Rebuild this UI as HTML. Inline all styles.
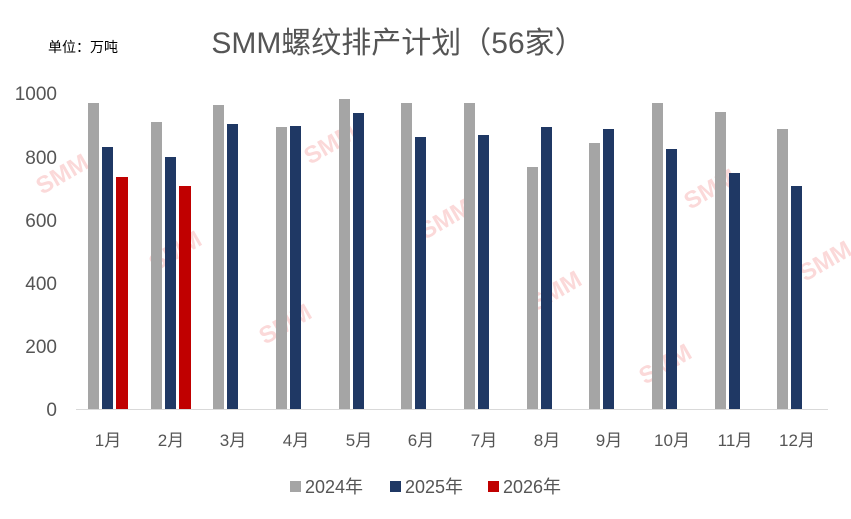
<!DOCTYPE html>
<html><head><meta charset="utf-8"><style>
html,body{margin:0;padding:0;background:#fff;}
svg{display:block;}
text{font-family:"Liberation Sans","Noto Sans CJK SC",sans-serif;}
</style></head><body>
<svg width="851" height="519" xmlns="http://www.w3.org/2000/svg">
<rect width="851" height="519" fill="#fff"/>
<g fill="#f08080" opacity="0.3" font-weight="bold" font-size="24">
<text transform="translate(42,195) rotate(-30)">SMM</text>
<text transform="translate(155,272) rotate(-30)">SMM</text>
<text transform="translate(265,345) rotate(-30)">SMM</text>
<text transform="translate(310,165) rotate(-30)">SMM</text>
<text transform="translate(425,240) rotate(-30)">SMM</text>
<text transform="translate(535,312) rotate(-30)">SMM</text>
<text transform="translate(645,385) rotate(-30)">SMM</text>
<text transform="translate(690,210) rotate(-30)">SMM</text>
<text transform="translate(805,282) rotate(-30)">SMM</text>
</g>
<text x="48" y="52" font-size="14" fill="#000">单位：万吨</text>
<text x="398" y="53" font-size="30" fill="#555" text-anchor="middle">SMM螺纹排产计划（56家）</text>
<g font-size="19" fill="#555" text-anchor="end">
<text x="57" y="100">1000</text>
<text x="57" y="164">800</text>
<text x="57" y="227">600</text>
<text x="57" y="290">400</text>
<text x="57" y="353">200</text>
<text x="57" y="416">0</text>
</g>
<line x1="76" y1="409.5" x2="828" y2="409.5" stroke="#d9d9d9" stroke-width="1"/>
<g fill="#a5a5a5">
<rect x="88" y="103" width="11" height="306"/>
<rect x="151" y="122" width="11" height="287"/>
<rect x="213" y="105" width="11" height="304"/>
<rect x="276" y="127" width="11" height="282"/>
<rect x="339" y="99" width="11" height="310"/>
<rect x="401" y="103" width="11" height="306"/>
<rect x="464" y="103" width="11" height="306"/>
<rect x="527" y="167" width="11" height="242"/>
<rect x="589" y="143" width="11" height="266"/>
<rect x="652" y="103" width="11" height="306"/>
<rect x="715" y="112" width="11" height="297"/>
<rect x="777" y="129" width="11" height="280"/>
</g>
<g fill="#1f3864">
<rect x="102" y="147" width="11" height="262"/>
<rect x="165" y="157" width="11" height="252"/>
<rect x="227" y="124" width="11" height="285"/>
<rect x="290" y="126" width="11" height="283"/>
<rect x="353" y="113" width="11" height="296"/>
<rect x="415" y="137" width="11" height="272"/>
<rect x="478" y="135" width="11" height="274"/>
<rect x="541" y="127" width="11" height="282"/>
<rect x="603" y="129" width="11" height="280"/>
<rect x="666" y="149" width="11" height="260"/>
<rect x="729" y="173" width="11" height="236"/>
<rect x="791" y="186" width="11" height="223"/>
</g>
<g fill="#c00000">
<rect x="116" y="177" width="12" height="232"/>
<rect x="179" y="186" width="12" height="223"/>
</g>
<g font-size="17" fill="#555" text-anchor="middle">
<text x="108" y="446">1月</text>
<text x="171" y="446">2月</text>
<text x="233" y="446">3月</text>
<text x="296" y="446">4月</text>
<text x="359" y="446">5月</text>
<text x="421" y="446">6月</text>
<text x="484" y="446">7月</text>
<text x="547" y="446">8月</text>
<text x="609" y="446">9月</text>
<text x="672" y="446">10月</text>
<text x="735" y="446">11月</text>
<text x="797" y="446">12月</text>
</g>
<rect x="290" y="481" width="11" height="11" fill="#a5a5a5"/>
<text x="305" y="493" font-size="18" fill="#555">2024年</text>
<rect x="390" y="481" width="11" height="11" fill="#1f3864"/>
<text x="405" y="493" font-size="18" fill="#555">2025年</text>
<rect x="488" y="481" width="11" height="11" fill="#c00000"/>
<text x="503" y="493" font-size="18" fill="#555">2026年</text>
</svg>
</body></html>
